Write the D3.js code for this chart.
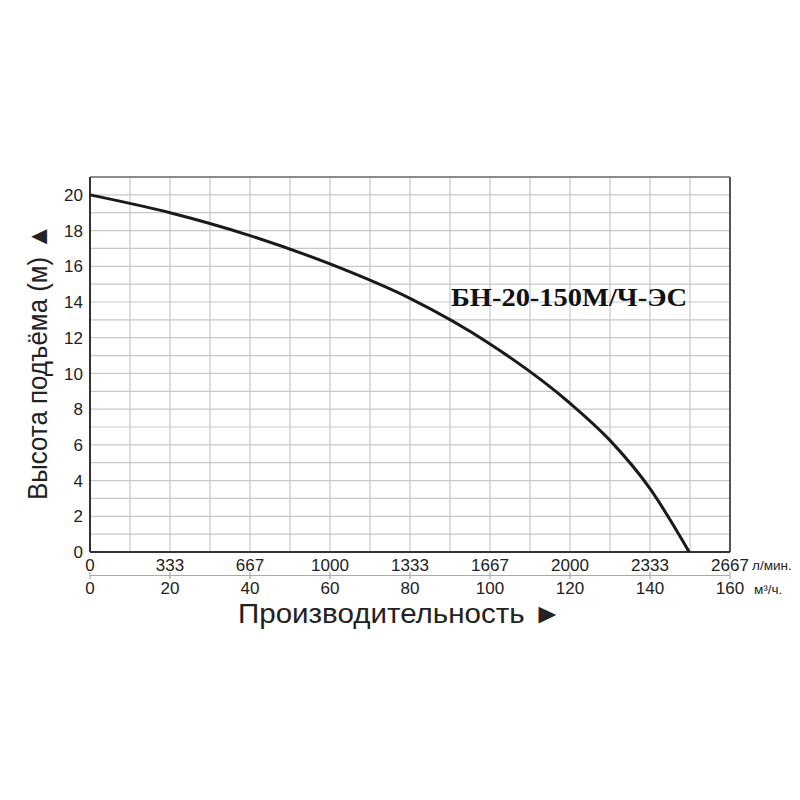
<!DOCTYPE html>
<html><head><meta charset="utf-8">
<script src="https://cdn.jsdelivr.net/npm/d3@7"></script>
<style>body{margin:0;background:#fff}</style>
</head><body>
<svg id="c" width="800" height="800"></svg>
<script>
// Data: flow (m³/h) vs head (m)
const flow = [0, 20, 40, 60, 80, 100, 120, 130, 140, 149.8];
const head = [20, 19.0, 17.72, 16.13, 14.2, 11.65, 8.33, 6.25, 3.55, 0];
const yTicks = [0, 2, 4, 6, 8, 10, 12, 14, 16, 18, 20];
const m3Ticks = [0, 20, 40, 60, 80, 100, 120, 140, 160];
const lminLabels = ["0", "333", "667", "1000", "1333", "1667", "2000", "2333", "2667"];
const title = "БН-20-150М/Ч-ЭС";

const svg = d3.select("#c");
const L = 90, R = 730, T = 177, B = 552;
const x = d3.scaleLinear().domain([0, 160]).range([L, R]);
const y = d3.scaleLinear().domain([0, 21]).range([B, T]);
const SANS = "Liberation Sans, Arial, sans-serif";

// grid
const g = svg.append("g");
g.selectAll("line.v").data(d3.range(10, 160, 10)).join("line")
  .attr("x1", d => x(d)).attr("x2", d => x(d)).attr("y1", T).attr("y2", B)
  .attr("stroke", "#c8c8c8").attr("stroke-width", 1.2);
g.selectAll("line.h").data(d3.range(1, 21, 1)).join("line")
  .attr("x1", L).attr("x2", R).attr("y1", d => y(d)).attr("y2", d => y(d))
  .attr("stroke", "#c8c8c8").attr("stroke-width", 1.2);

// frame
svg.append("line").attr("x1", L).attr("x2", R).attr("y1", T).attr("y2", T).attr("stroke", "#666").attr("stroke-width", 1.5);
svg.append("line").attr("x1", R).attr("x2", R).attr("y1", T).attr("y2", B).attr("stroke", "#555").attr("stroke-width", 2);
svg.append("line").attr("x1", L).attr("x2", L).attr("y1", T).attr("y2", B).attr("stroke", "#333").attr("stroke-width", 2);
svg.append("line").attr("x1", L).attr("x2", R).attr("y1", B).attr("y2", B).attr("stroke", "#333").attr("stroke-width", 2);

// y ticks
svg.append("g").selectAll("text").data(yTicks).join("text")
  .attr("x", 83).attr("y", d => y(d)).attr("dy", "0.36em")
  .attr("text-anchor", "end").attr("font-family", SANS)
  .attr("font-size", 17).attr("fill", "#222").text(d => d);

// bottom l/min labels
svg.append("g").selectAll("text").data(m3Ticks).join("text")
  .attr("x", d => x(d)).attr("y", 571).attr("text-anchor", "middle")
  .attr("font-family", SANS).attr("font-size", 17).attr("fill", "#222")
  .text((d, i) => lminLabels[i]);
// separator line with ticks
svg.append("line").attr("x1", L).attr("x2", R).attr("y1", 575.5).attr("y2", 575.5).attr("stroke", "#aaa").attr("stroke-width", 1.2);
svg.append("g").selectAll("line").data(m3Ticks).join("line")
  .attr("x1", d => x(d)).attr("x2", d => x(d)).attr("y1", 572).attr("y2", 579)
  .attr("stroke", "#aaa").attr("stroke-width", 1.2);
svg.append("g").selectAll("text").data(m3Ticks).join("text")
  .attr("x", d => x(d)).attr("y", 594).attr("text-anchor", "middle")
  .attr("font-family", SANS).attr("font-size", 17).attr("fill", "#222")
  .text(d => d);
svg.append("text").attr("x", 752).attr("y", 570).attr("font-family", SANS)
  .attr("font-size", 13.5).attr("fill", "#222").text("л/мин.");
svg.append("text").attr("x", 754).attr("y", 594).attr("font-family", SANS)
  .attr("font-size", 13.5).attr("fill", "#222").text("м³/ч.");

// axis titles
svg.append("text").attr("x", 238).attr("y", 623)
  .attr("font-family", SANS).attr("font-size", 28).attr("fill", "#222")
  .attr("textLength", 324).attr("lengthAdjust", "spacingAndGlyphs")
  .text("Производительность ►");
svg.append("text").attr("transform", "translate(47,500) rotate(-90)")
  .attr("font-family", SANS).attr("font-size", 27).attr("fill", "#222")
  .attr("textLength", 276).attr("lengthAdjust", "spacingAndGlyphs")
  .text("Высота подъёма (м) ▲");

// curve
const pts = flow.map((f, i) => [f, head[i]]);
svg.append("path").datum(pts)
  .attr("d", d3.line().x(d => x(d[0])).y(d => y(d[1])).curve(d3.curveMonotoneX))
  .attr("fill", "none").attr("stroke", "#1a1a1a").attr("stroke-width", 3);

// model title
svg.append("text").attr("x", 451).attr("y", 306)
  .attr("font-family", "Liberation Serif, Times New Roman, serif").attr("font-weight", "bold")
  .attr("font-size", 26).attr("fill", "#111")
  .attr("textLength", 236).attr("lengthAdjust", "spacingAndGlyphs")
  .text(title);
</script>
</body></html>
